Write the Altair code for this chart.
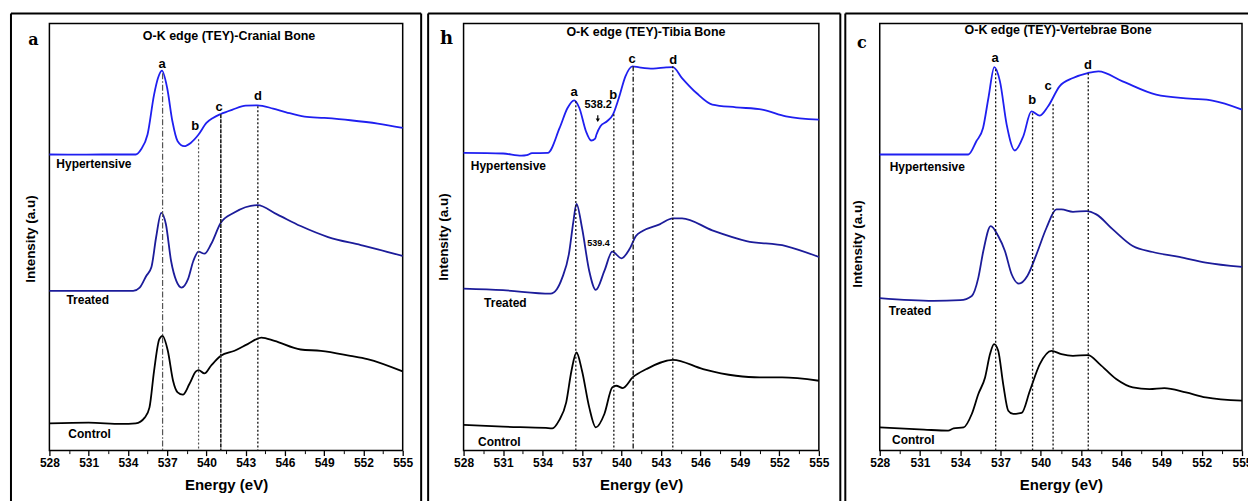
import altair as alt
import pandas as pd

FONT = "Liberation Sans"
SERIES = ["Hypertensive", "Treated", "Control"]
X_TICKS = [528, 531, 534, 537, 540, 543, 546, 549, 552, 555]
X_MINOR = [529.5, 532.5, 535.5, 538.5, 541.5, 544.5, 547.5, 550.5, 553.5]
PEAKS = ["a", "b", "c", "d"]
Y_TITLE = "Intensity (a.u)"
X_TITLE = "Energy (eV)"

# ---------------- panel a : cranial bone ----------------
A_TITLE = "O-K edge (TEY)-Cranial Bone"
A_HYP_E = [528.0, 530.0, 532.0, 534.6, 535.0, 535.5, 536.0, 536.3, 536.6, 537.0, 537.4, 537.8, 538.3, 538.8,
           539.4, 540.0, 540.5, 541.1, 542.0, 543.0, 543.9, 545.1, 546.1, 547.5, 549.0, 551.0, 553.1, 555.0]
A_HYP_I = [296.7, 296.5, 296.7, 296.7, 301.7, 316.7, 356.7, 373.3, 380.7, 363.3, 330.0, 310.0, 305.0, 308.3,
           316.7, 328.3, 333.3, 337.3, 341.7, 345.7, 346.0, 342.7, 339.0, 334.7, 333.3, 331.0, 327.7, 323.3]
A_TRT_E = [528.0, 532.7, 534.4, 534.9, 535.4, 535.8, 536.15, 536.55, 536.9, 537.3, 537.7, 538.1, 538.6, 539.0,
           539.4, 539.85, 540.35, 541.1, 542.1, 543.9, 545.4, 547.2, 549.3, 551.8, 553.1, 555.0]
A_TRT_I = [160.0, 160.0, 160.0, 163.3, 175.0, 184.0, 213.3, 238.3, 227.0, 190.0, 170.0, 163.3, 172.0, 190.0,
           199.3, 197.3, 206.7, 228.3, 238.3, 246.0, 236.7, 225.0, 214.0, 206.0, 201.7, 195.0]
A_CTL_E = [528.0, 531.0, 533.5, 534.6, 535.3, 535.65, 536.0, 536.4, 536.65, 537.05, 537.45, 537.8, 538.2, 538.7,
           539.2, 539.4, 539.85, 540.35, 541.1, 542.15, 543.15, 544.2, 545.2, 547.2, 548.75, 551.0, 552.3, 555.0]
A_CTL_I = [27.3, 28.0, 26.7, 27.3, 33.3, 43.3, 80.0, 111.7, 115.0, 100.0, 70.0, 58.3, 56.0, 66.7,
           79.3, 80.7, 77.3, 85.0, 95.0, 100.0, 106.7, 113.3, 110.0, 101.3, 100.0, 95.0, 91.7, 79.3]
A_PEAK_E = [536.65, 539.4, 541.1, 543.93]
A_PEAK_TOP = [378, 312, 337, 345]
A_PEAK_LABEL_E = [536.62, 539.14, 540.97, 543.94]
A_PEAK_LABEL_I = [387, 325, 344, 355]
A_NAME_E = [528.53, 529.3, 529.45]
A_NAME_I = [287, 151, 17]
A_TITLE_E, A_TITLE_I = 541.73, 415

# ---------------- panel b : tibia bone ----------------
B_TITLE = "O-K edge (TEY)-Tibia Bone"
B_HYP_E = [528.0, 531.0, 532.4, 532.8, 533.2, 534.4, 535.3, 535.9, 536.4, 536.8, 537.3, 537.7, 538.0, 538.1,
           538.4, 538.9, 539.35, 539.8, 540.3, 540.84, 541.35, 542.4, 543.4, 543.9, 544.6, 545.7, 546.9, 548.7,
           550.7, 552.5, 555.0]
B_HYP_I = [298.3, 297.7, 295.5, 296.0, 298.0, 298.3, 323.3, 343.3, 351.0, 343.3, 320.0, 310.7, 312.7, 316.7,
           325.0, 330.0, 336.7, 353.3, 375.0, 385.0, 384.0, 382.7, 384.0, 384.3, 373.3, 358.3, 346.7, 344.0,
           341.7, 335.0, 331.7]
B_TRT_E = [528.0, 531.0, 534.6, 535.1, 535.5, 536.0, 536.35, 536.58, 537.0, 537.55, 538.05, 538.7, 539.3, 540.0,
           540.6, 541.1, 541.6, 542.9, 543.9, 544.6, 546.9, 549.5, 552.5, 555.0]
B_TRT_I = [162.3, 160.7, 157.3, 162.0, 173.3, 196.7, 230.0, 247.3, 223.3, 180.0, 161.0, 180.0, 199.3, 192.7,
           201.7, 215.0, 220.0, 226.7, 232.7, 232.7, 220.7, 210.0, 205.0, 194.0]
B_CTL_E = [528.0, 531.0, 534.25, 534.75, 535.25, 535.8, 536.2, 536.58, 537.0, 537.55, 538.05, 538.7, 539.3,
           539.6, 540.1, 540.85, 541.9, 543.9, 546.2, 548.7, 550.5, 552.2, 555.0]
B_CTL_I = [25.7, 24.0, 22.7, 22.3, 30.0, 48.3, 80.0, 98.3, 80.0, 43.3, 23.3, 36.7, 63.3,
           65.0, 62.7, 73.3, 81.7, 91.0, 81.7, 75.0, 73.3, 73.3, 70.0]
B_PEAK_E = [536.53, 539.42, 540.89, 543.9]
B_PEAK_TOP = [350, 337, 385, 385]
B_PEAK_LABEL_E = [536.4, 539.37, 540.81, 543.93]
B_PEAK_LABEL_I = [359, 356.7, 392, 391]
B_NAME_E = [528.55, 529.56, 529.1]
B_NAME_I = [285, 148, 8.3]
B_TITLE_E, B_TITLE_I = 541.86, 419
B_NOTE_TEXT = ["538.2", "539.4"]
B_NOTE_E = [538.23, 538.25]
B_NOTE_I = [346, 208.3]
B_ARROW_E = 538.2
B_ARROW_I = [336, 331]

# ---------------- panel c : vertebrae bone ----------------
C_TITLE = "O-K edge (TEY)-Vertebrae Bone"
C_HYP_E = [528.0, 534.6, 535.2, 535.7, 536.1, 536.54, 536.96, 537.46, 538.07, 538.7, 539.3, 539.93, 540.55,
           541.4, 542.4, 543.5, 544.3, 546.1, 548.6, 551.1, 552.8, 555.0]
C_HYP_I = [296.7, 296.7, 310.0, 323.3, 353.3, 384.3, 370.0, 326.7, 300.7, 315.0, 340.0, 335.7, 345.0,
           365.0, 373.3, 378.3, 380.0, 370.0, 356.7, 352.7, 350.7, 341.7]
C_TRT_E = [528.0, 532.0, 534.0, 534.86, 535.35, 535.72, 536.27, 536.83, 537.33, 537.83, 538.37, 539.0, 539.68,
           540.43, 541.17, 541.54, 542.4, 543.4, 544.14, 545.37, 546.86, 548.34, 550.32, 552.3, 555.0]
C_TRT_I = [152.7, 150.0, 150.7, 155.0, 173.3, 200.0, 225.0, 215.0, 200.0, 176.7, 167.3, 175.0, 196.7,
           223.3, 241.7, 241.7, 239.3, 240.0, 236.7, 221.7, 205.0, 199.0, 194.0, 188.3, 184.0]
C_CTL_E = [528.0, 531.3, 533.1, 533.5, 534.25, 534.86, 535.35, 535.85, 536.22, 536.52, 536.83, 537.2, 537.58,
           537.95, 538.57, 539.19, 539.93, 540.8, 541.54, 542.4, 543.52, 544.39, 545.62, 546.86, 548.1, 549.21,
           550.82, 552.3, 555.0]
C_CTL_I = [23.3, 21.0, 20.0, 22.3, 23.3, 36.7, 56.7, 73.3, 96.7, 106.7, 100.0, 66.7, 40.0,
           36.7, 37.7, 60.0, 86.7, 100.0, 96.7, 95.0, 95.7, 86.7, 71.7, 63.3, 61.7, 62.7,
           58.3, 53.3, 50.0]
C_PEAK_E = [536.64, 539.39, 540.92, 543.54]
C_PEAK_TOP = [382, 338, 347, 378]
C_PEAK_LABEL_E = [536.59, 539.36, 540.55, 543.52]
C_PEAK_LABEL_I = [393.3, 351, 365, 386.7]
C_NAME_E = [528.74, 528.67, 528.92]
C_NAME_I = [284.3, 140, 10.7]
C_TITLE_E, C_TITLE_I = 541.29, 421

# ---------------- styles / layout ----------------
PLOT_H = 428
Y_DOMAIN = [0, 428]
BLUE, NAVY, BLACK = "#1f1ff0", "#1c1c9a", "#000000"
DOT = ([2, 2], "#111111", 1.3)
DOTGRAY = ([2, 2], "#555555", 1.2)
DASHDOT = ([6, 2, 1.5, 2], "#555555", 1.2)
DASHDOT_DARK = ([5, 2, 1.5, 2], "#222222", 1.4)
DENSE = ([4, 1], "#222222", 1.6)


def curves_df(es, iss):
    parts = [pd.DataFrame({"E": e, "I": i, "series": s}) for s, e, i in zip(SERIES, es, iss)]
    return pd.concat(parts, ignore_index=True)


def make_panel(width, curves, colors, peak_e, peak_top, lab_e, lab_i, styles, name_e, name_i,
               title, title_e, title_i, frame, letter, ytitle_pos, extras=()):
    xs = alt.Scale(domain=[528, 555], nice=False, zero=False)
    ys = alt.Scale(domain=Y_DOMAIN, nice=False, zero=False)
    xaxis = alt.Axis(values=X_TICKS, orient="bottom", title=X_TITLE, grid=False, domain=False,
                     tickSize=5, tickWidth=1.3, tickColor="black", labelFont=FONT, labelFontSize=12,
                     labelFontWeight="bold", labelColor="black", labelPadding=2, labelFlush=False,
                     labelOverlap=False, titleFont=FONT, titleFontSize=15, titleFontWeight="bold",
                     titleColor="black", titlePadding=9, format="d")
    minor = alt.Axis(values=X_MINOR, orient="bottom", title=None, grid=False, domain=False, labels=False,
                     tickSize=3, tickWidth=1, tickColor="black")
    layers = []
    layers.append(alt.Chart(curves).mark_line(interpolate="monotone", strokeWidth=1.8).encode(
        x=alt.X("E:Q", scale=xs, axis=xaxis),
        y=alt.Y("I:Q", scale=ys, axis=None),
        color=alt.Color("series:N", scale=alt.Scale(domain=SERIES, range=colors), legend=None),
    ))
    for k in range(len(peak_e)):
        dash, col, w = styles[k]
        d = pd.DataFrame({"E": [peak_e[k]], "top": [peak_top[k]], "bot": [0]})
        layers.append(alt.Chart(d).mark_rule(strokeDash=dash, color=col, strokeWidth=w).encode(
            x=alt.X("E:Q", scale=xs, axis=None),
            y=alt.Y("top:Q", scale=ys, axis=None),
            y2="bot:Q",
        ))
    pk = pd.DataFrame({"E": lab_e, "I": lab_i, "t": PEAKS})
    layers.append(alt.Chart(pk).mark_text(font=FONT, fontSize=13, fontWeight="bold", color="black").encode(
        x=alt.X("E:Q", scale=xs, axis=minor),
        y=alt.Y("I:Q", scale=ys, axis=None),
        text="t:N",
    ))
    nm = pd.DataFrame({"E": name_e, "I": name_i, "t": SERIES})
    layers.append(alt.Chart(nm).mark_text(font=FONT, fontSize=12, fontWeight="bold", color="black",
                                          align="left").encode(
        x=alt.X("E:Q", scale=xs, axis=None),
        y=alt.Y("I:Q", scale=ys, axis=None),
        text="t:N",
    ))
    tt = pd.DataFrame({"E": [title_e], "I": [title_i], "t": [title]})
    layers.append(alt.Chart(tt).mark_text(font=FONT, fontSize=12.5, fontWeight="bold", color="black").encode(
        x=alt.X("E:Q", scale=xs, axis=None),
        y=alt.Y("I:Q", scale=ys, axis=None),
        text="t:N",
    ))
    for ex in extras:
        layers.append(ex(xs, ys))
    base = alt.Chart(pd.DataFrame({"k": [0]}))
    # y-axis title (the y axis carries no ticks or labels)
    yx, yy = ytitle_pos
    layers.append(base.mark_text(font=FONT, fontSize=13.5, fontWeight="bold", color="black", angle=270,
                                 align="center", baseline="middle").encode(
        x=alt.value(yx), y=alt.value(yy), text=alt.value(Y_TITLE)))
    # outer frame around each figure panel
    fl, fr, ft, right_side = frame
    layers.append(base.mark_rule(color="black", strokeWidth=2).encode(
        x=alt.value(fl), y=alt.value(ft), y2=alt.value(479)))
    layers.append(base.mark_rule(color="black", strokeWidth=2).encode(
        x=alt.value(fl), x2=alt.value(fr), y=alt.value(ft)))
    if right_side:
        layers.append(base.mark_rule(color="black", strokeWidth=2).encode(
            x=alt.value(fr), y=alt.value(ft), y2=alt.value(479)))
    lt, lx, ly, lsize = letter
    layers.append(base.mark_text(font="DejaVu Serif", fontWeight="bold", fontSize=lsize, color="black",
                                 baseline="alphabetic").encode(
        x=alt.value(lx), y=alt.value(ly), text=alt.value(lt)))
    return alt.layer(*layers).resolve_axis(x="independent").properties(width=width, height=PLOT_H)


def b_notes(xs, ys):
    nt = pd.DataFrame({"E": B_NOTE_E, "I": B_NOTE_I, "t": B_NOTE_TEXT, "s": ["big", "small"]})
    txt = alt.Chart(nt).mark_text(font=FONT, fontWeight="bold", color="black").encode(
        x=alt.X("E:Q", scale=xs, axis=None),
        y=alt.Y("I:Q", scale=ys, axis=None),
        text="t:N",
        size=alt.Size("s:N", scale=alt.Scale(domain=["big", "small"], range=[11, 9]), legend=None),
    )
    ar = pd.DataFrame({"E": [B_ARROW_E], "I1": [B_ARROW_I[0]], "I2": [B_ARROW_I[1]]})
    shaft = alt.Chart(ar).mark_rule(color="black", strokeWidth=1.2).encode(
        x=alt.X("E:Q", scale=xs, axis=None),
        y=alt.Y("I1:Q", scale=ys, axis=None),
        y2="I2:Q",
    )
    head = alt.Chart(ar).mark_point(shape="triangle-down", filled=True, color="black", size=18,
                                    opacity=1).encode(
        x=alt.X("E:Q", scale=xs, axis=None),
        y=alt.Y("I2:Q", scale=ys, axis=None),
    )
    return alt.layer(txt, shaft, head)


pa = make_panel(354, curves_df([A_HYP_E, A_TRT_E, A_CTL_E], [A_HYP_I, A_TRT_I, A_CTL_I]),
                [BLUE, NAVY, BLACK], A_PEAK_E, A_PEAK_TOP, A_PEAK_LABEL_E, A_PEAK_LABEL_I,
                [DASHDOT, DOTGRAY, DENSE, DOT], A_NAME_E, A_NAME_I, A_TITLE, A_TITLE_E, A_TITLE_I,
                (-38.5, 372.5, -10, True), ("a", -16, 22, 16), (-18, 216))
pb = make_panel(356, curves_df([B_HYP_E, B_TRT_E, B_CTL_E], [B_HYP_I, B_TRT_I, B_CTL_I]),
                [BLUE, NAVY, "#3a3a3a"], B_PEAK_E, B_PEAK_TOP, B_PEAK_LABEL_E, B_PEAK_LABEL_I,
                [DOT, DOT, DASHDOT_DARK, DOT], B_NAME_E, B_NAME_I, B_TITLE, B_TITLE_E, B_TITLE_I,
                (-35.5, 377.5, -10, True), ("h", -17, 21, 18), (-20, 214), extras=[b_notes])
pc = make_panel(363, curves_df([C_HYP_E, C_TRT_E, C_CTL_E], [C_HYP_I, C_TRT_I, C_CTL_I]),
                [BLUE, NAVY, BLACK], C_PEAK_E, C_PEAK_TOP, C_PEAK_LABEL_E, C_PEAK_LABEL_I,
                [DOT, DOT, DOT, DOT], C_NAME_E, C_NAME_I, C_TITLE, C_TITLE_E, C_TITLE_I,
                (-34.5, 373, -10, False), ("c", -18, 25, 16), (-22, 221))

chart = alt.hconcat(pa, pb, pc, spacing=61, bounds="flush").properties(
    padding={"left": 8.5, "top": 11, "right": -6, "bottom": -1},
    background="white",
).configure(font=FONT).configure_view(
    stroke="black", strokeWidth=1.5
).configure_axis(
    labelFont=FONT, labelFontSize=12, labelFontWeight="bold", labelColor="black",
    tickColor="black", titleColor="black", labelFlush=False,
)

chart.save("out.html", embed_options={"renderer": "svg", "actions": False})
